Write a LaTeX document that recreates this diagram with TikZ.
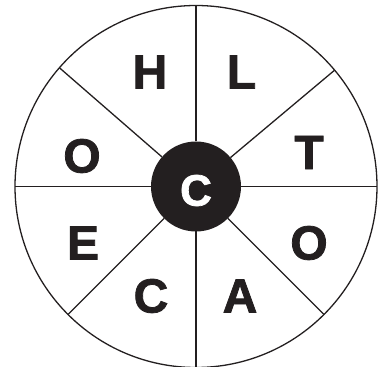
\documentclass[tikz,border=0pt]{standalone}
\usepackage{fontspec}
\setmainfont{Liberation Sans}
\newfontfamily\heavyfont{Liberation Sans Bold}[FakeBold=1.6]
\usepackage{tikz}
\usetikzlibrary{
  positioning,
  calc,
}
\definecolor{inkblack}{HTML}{231F20}

\tikzset{
  rim/.style={circle, draw=inkblack, line width=1.3pt, minimum size=362pt, inner sep=0pt, outer sep=0pt},
  hub/.style={circle, fill=inkblack, minimum size=90pt, inner sep=0pt, outer sep=0pt},
  spoke/.style={draw=inkblack, line width=1.3pt},
  letter/.style={text=inkblack, inner sep=0pt, font=\fontsize{48}{48}\heavyfont},
}

\begin{document}
\begin{tikzpicture}[x=1pt, y=1pt]
  \useasboundingbox (-196,-180.5) rectangle (185,186.5);
  \node[rim] (rim) at (0,0) {};
  \node[hub] (hub) at (0,0) {};
  % spokes between hub and rim
  \foreach \ang in {0, 40.7, 90, 139.3, 180, 225, 270, 315}
    \draw[spoke] (hub.\ang) -- (rim.\ang);
  \node[letter, text=white, font=\fontsize{44}{44}\heavyfont] (mid) at (0,-4) {C};
  % letters round the wheel
  \node[letter] (h)  at (-46,114.5)  {H};
  \node[letter] (l)  at (45.5,114.5) {L};
  \node[letter] (t)  at (113,34)     {T};
  \node[letter] (or) at (113,-56.5)  {O};
  \node[letter] (a)  at (44,-109.5)  {A};
  \node[letter] (c)  at (-45,-109.5) {C};
  \node[letter] (e)  at (-113,-56.5) {E};
  \node[letter] (ol) at (-114,30.5)  {O};
\end{tikzpicture}
\end{document}
